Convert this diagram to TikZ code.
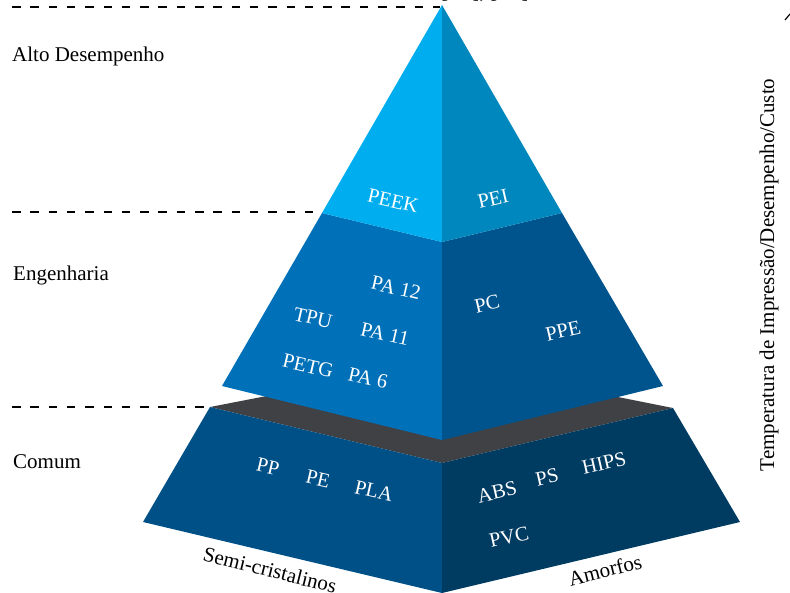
\documentclass[tikz,border=0pt]{standalone}
\usepackage{fontspec}
\setmainfont{Liberation Serif}
\begin{document}
\begin{tikzpicture}[x=1pt,y=-1pt,
  level/.style={font=\fontsize{21}{24}\selectfont, anchor=base west, inner sep=0pt},
  mat/.style={font=\fontsize{20.5}{23}\selectfont, text=white, inner sep=0pt},
  matL/.style={mat, rotate=-13},
  matR/.style={mat, rotate=13},
  side/.style={font=\fontsize{21}{24}\selectfont, inner sep=0pt},
  guide/.style={dash pattern=on 8.5pt off 9.8pt, line width=1.2pt}]
\definecolor{topL}{RGB}{0,173,238}
\definecolor{topR}{RGB}{0,136,190}
\definecolor{midL}{RGB}{0,112,184}
\definecolor{midR}{RGB}{0,84,142}
\definecolor{botL}{RGB}{0,80,136}
\definecolor{botR}{RGB}{0,59,98}
\definecolor{ledge}{RGB}{64,65,69}
\useasboundingbox (0,0) rectangle (790,593);

% pyramid corners
\coordinate (apex) at (442,5);
\coordinate (tl) at (322,213);
\coordinate (tc) at (442,242);
\coordinate (tr) at (562,213);
\coordinate (ml) at (222,386);
\coordinate (mc) at (442,440);
\coordinate (mr) at (663,386);
\coordinate (gl) at (210,407);
\coordinate (gb) at (442,362);
\coordinate (gr) at (673,408);
\coordinate (gc) at (442,463);
\coordinate (bl) at (143,522);
\coordinate (bc) at (442,593);
\coordinate (br) at (740,522);

% base block
\fill[ledge] (gl) -- (gb) -- (gr) -- (gc) -- cycle;
\fill[botL] (gl) -- (gc) -- (bc) -- (bl) -- cycle;
\fill[botR] (gc) -- (gr) -- (br) -- (bc) -- cycle;
% middle block
\fill[midL] (tl) -- (tc) -- (mc) -- (ml) -- cycle;
\fill[midR] (tc) -- (tr) -- (mr) -- (mc) -- cycle;
% top block
\fill[topL] (apex) -- (tc) -- (tl) -- cycle;
\fill[topR] (apex) -- (tr) -- (tc) -- cycle;

% level guides
\coordinate (g1s) at (12,7);   \coordinate (g1e) at (440,7);
\coordinate (g2s) at (12,212); \coordinate (g2e) at (318,212);
\coordinate (g3s) at (12,407); \coordinate (g3e) at (207,407);
\draw[guide] (g1s) -- (g1e);
\draw[guide] (g2s) -- (g2e);
\draw[guide] (g3s) -- (g3e);

% level names
\node[level] (alto) at (12,62) {Alto Desempenho};
\node[level] (eng) at (13,281) {Engenharia};
\node[level] (com) at (13,468) {Comum};

% materials
\node[matL] (peek) at (393,201) {PEEK};
\node[matR] (pei) at (493,199) {PEI};
\node[matL] (pa12) at (396,288) {PA 12};
\node[matL] (tpu) at (313,318) {TPU};
\node[matL] (pa11) at (385,334) {PA 11};
\node[matL] (petg) at (308,366) {PETG};
\node[matL] (pa6) at (368,378) {PA 6};
\node[matR] (pc) at (487,304) {PC};
\node[matR] (ppe) at (563,331) {PPE};
\node[matL] (pp) at (268,467) {PP};
\node[matL] (pe) at (318,479) {PE};
\node[matL] (pla) at (374,491) {PLA};
\node[matR] (abs) at (497,492) {ABS};
\node[matR] (ps) at (547,477) {PS};
\node[matR] (hips) at (604,463) {HIPS};
\node[matR] (pvc) at (509,537) {PVC};

% face names
\node[side, rotate=-14] (semi) at (270,570) {Semi-cristalinos};
\node[side, rotate=14] (amorf) at (605,570) {Amorfos};

% axis title
\node[side, rotate=90] (axis) at (769,275) {Temperatura de Impressão/Desempenho/Custo};

% top reference (cut by the page edge)
\node[font=\fontsize{21}{24}\selectfont, anchor=base west, inner sep=0pt] (ref) at (441,-1.5) {[\hphantom{00}\,], [\hphantom{00}\,]};
\coordinate (tipA) at (785,20);
\coordinate (tipB) at (790,14);
\draw[line width=1.2pt] (tipA) -- (tipB);
\end{tikzpicture}
\end{document}
